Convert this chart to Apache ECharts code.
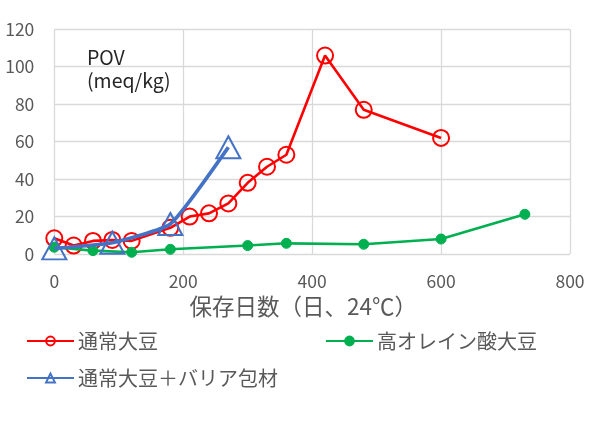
<!DOCTYPE html>
<html><head><meta charset="utf-8">
<script src="https://cdn.jsdelivr.net/npm/echarts@6/dist/echarts.min.js"></script>
<style>html,body{margin:0;padding:0;background:#fff}#c{width:600px;height:425px}</style>
</head><body><div id="c"></div>
<script>
var seriesNames = ['通常大豆', '高オレイン酸大豆', '通常大豆＋バリア包材'];
var normalDays = [0, 30, 60, 90, 120, 180, 210, 240, 270, 300, 330, 360, 420, 480, 600];
var normalPOV = [8.4, 4.5, 7, 7.5, 7, 14, 20, 21.7, 27, 38, 46.6, 53, 106, 77, 62];
var oleicDays = [0, 60, 120, 180, 300, 360, 480, 600, 730];
var oleicPOV = [3.6, 1.8, 0.9, 2.5, 4.5, 5.7, 5.2, 8, 21.2];
var barrierDays = [0, 90, 180, 270];
var barrierPOV = [3, 6, 16, 57];
var xTicks = {min: 0, max: 800, interval: 200};
var yTicks = {min: 0, max: 120, interval: 20};
var unitLabel = 'POV\n(meq/kg)';
var xAxisTitle = '保存日数（日、24℃）';

function pairs(xs, ys) { return xs.map(function (x, i) { return [x, ys[i]]; }); }

var FONT = '"Noto Sans CJK JP", "Noto Sans", sans-serif';
var chart = echarts.init(document.getElementById('c'), null, {renderer: 'canvas'});
var legendBase = {
  itemWidth: 47, itemHeight: 11, itemGap: 0, padding: 0,
  textStyle: {fontFamily: FONT, fontSize: 20, color: '#595959', padding: [0, 0, 0, -1]},
  selectedMode: false
};
chart.setOption({
  animation: false,
  backgroundColor: '#fff',
  textStyle: {fontFamily: FONT},
  title: {
    text: unitLabel, left: 82, top: 41,
    textStyle: {fontFamily: FONT, fontSize: 19.5, fontWeight: 'normal', color: '#262626', lineHeight: 23}
  },
  grid: {left: 54.3, right: 30, top: 29.3, bottom: 171, containLabel: false},
  legend: [
    Object.assign({data: [seriesNames[0]], left: 26, top: 331}, legendBase),
    Object.assign({data: [seriesNames[1]], left: 325, top: 331}, legendBase),
    Object.assign({data: [seriesNames[2]], left: 26, top: 368}, legendBase)
  ],
  xAxis: {
    type: 'value', min: xTicks.min, max: xTicks.max, interval: xTicks.interval,
    name: xAxisTitle, nameLocation: 'middle', nameGap: 41,
    nameTextStyle: {fontFamily: FONT, fontSize: 22.5, color: '#595959', padding: [0, 18, 0, 0]},
    axisLine: {show: false}, axisTick: {show: false},
    axisLabel: {fontFamily: FONT, fontSize: 17.5, color: '#595959', margin: 19},
    splitLine: {show: true, lineStyle: {color: '#D9D9D9', width: 1.3}}
  },
  yAxis: {
    type: 'value', min: yTicks.min, max: yTicks.max, interval: yTicks.interval,
    axisLine: {show: false}, axisTick: {show: false},
    axisLabel: {fontFamily: FONT, fontSize: 17.5, color: '#595959', margin: 20},
    splitLine: {show: true, lineStyle: {color: '#D9D9D9', width: 1.3}}
  },
  series: [
    {
      name: seriesNames[0], type: 'line', data: pairs(normalDays, normalPOV),
      symbol: 'circle', symbolSize: 16,
      lineStyle: {color: '#FF0000', width: 2.6},
      itemStyle: {color: 'rgba(255,255,255,0)', borderColor: '#FF0000', borderWidth: 2},
      z: 2
    },
    {
      name: seriesNames[1], type: 'line', data: pairs(oleicDays, oleicPOV),
      symbol: 'circle', symbolSize: 10,
      lineStyle: {color: '#00B050', width: 2.6},
      itemStyle: {color: '#00B050', borderColor: '#00B050', borderWidth: 1},
      z: 3
    },
    {
      name: seriesNames[2], type: 'line', data: pairs(barrierDays, barrierPOV),
      symbol: 'triangle', symbolSize: [24, 22], smooth: 0.15,
      lineStyle: {color: '#4472C4', width: 3.8},
      itemStyle: {color: 'rgba(255,255,255,0)', borderColor: '#4472C4', borderWidth: 2},
      z: 4
    }
  ]
});
</script>
</body></html>
